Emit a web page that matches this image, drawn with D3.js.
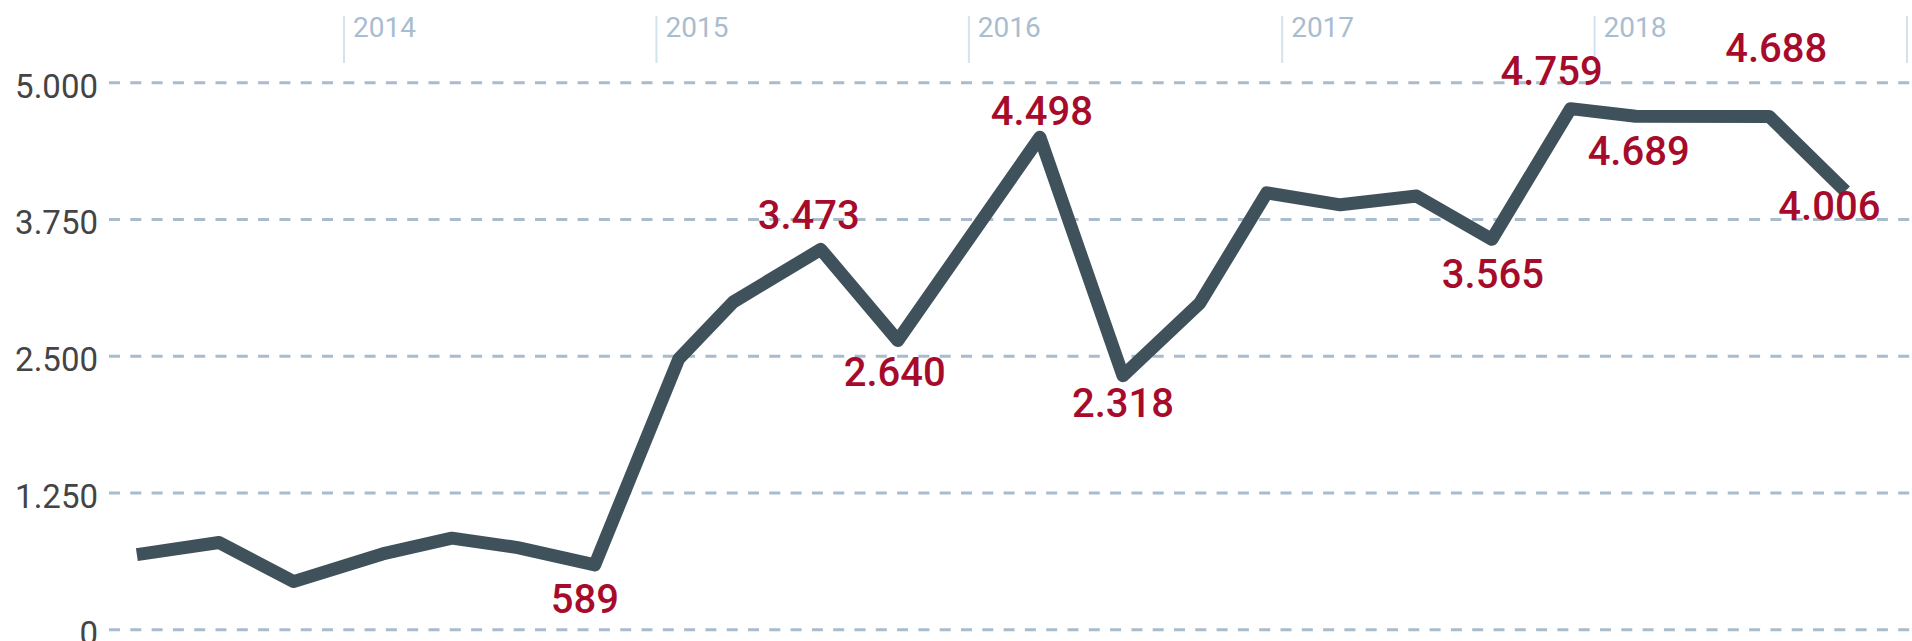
<!DOCTYPE html>
<html><head><meta charset="utf-8">
<script src="https://cdn.jsdelivr.net/npm/d3@7"></script>
<style>
html,body{margin:0;padding:0;background:#fff;}
svg{display:block;font-family:Roboto,"Noto Sans",sans-serif;}
</style></head><body>
<svg id="chart" width="1912" height="641"></svg>
<script>
// ---- data ----
const dates = ["2013-05-04","2013-08-08","2013-11-03","2014-02-15","2014-05-07","2014-07-23","2014-10-21",
  "2015-01-27","2015-04-01","2015-07-12","2015-10-10","2016-03-24","2016-06-29","2016-09-27","2016-12-14",
  "2017-03-10","2017-06-07","2017-09-03","2017-12-04","2018-02-18","2018-07-24","2018-10-21"];
const values = [683,793,436,689,833,747,589,2470,2993,3473,2640,4498,2318,2983,3990,3880,3960,3565,4759,4689,4688,4006];
const labelledIdx = [6,9,10,11,12,17,18,19,20,21];
const yTicks = [0,1250,2500,3750,5000];
const xDomain = ["2014-01-01","2019-01-01"];
// label layout (px offsets from the point), kept apart from the data
const labelOffsets = [[-10,48],[-12,-20],[-3,46],[2,-12],[0,41],[1,49],[-19,-24],[3,49],[7,-54],[-16,29]];

// ---- setup ----
const W = 1912, H = 641;
const svg = d3.select("#chart");
const parse = d3.utcParse("%Y-%m-%d");
const data = dates.map((d,i)=>({date:parse(d), value:values[i]}));
const locale = d3.formatLocale({decimal:",", thousands:".", grouping:[3], currency:["","€"]});
const fmt = locale.format(",d");

const x = d3.scaleUtc().domain(xDomain.map(parse)).range([344,1907]);
const y = d3.scaleLinear().domain([0,5000]).range([629.3,82.3]);

// y grid + labels
const gx = 109;
const yAxis = svg.append("g").attr("transform",`translate(${gx},0)`)
  .call(d3.axisLeft(y).tickValues(yTicks).tickFormat(fmt).tickSize(-(W-gx)).tickPadding(11));
yAxis.select(".domain").remove();
yAxis.selectAll(".tick line").attr("stroke","#a9bccd").attr("stroke-width",3).attr("stroke-dasharray","11 10.3");
yAxis.selectAll(".tick text").attr("fill","#444").attr("font-size",33).attr("font-family","Roboto").attr("dy","0.45em");

// top year ticks
const years = x.ticks(d3.utcYear.every(1));
const yearG = svg.append("g");
yearG.selectAll("line").data(years).join("line")
  .attr("x1",d=>x(d)).attr("x2",d=>x(d)).attr("y1",16).attr("y2",63)
  .attr("stroke","#d3e3ee").attr("stroke-width",2);
yearG.selectAll("text").data(years.filter(d=>x(d)+9<W-60)).join("text")
  .attr("x",d=>x(d)+9).attr("y",37)
  .attr("fill","#a8bdd0").attr("font-size",28).attr("font-family","Roboto")
  .text(d=>d3.utcFormat("%Y")(d));

// line
svg.append("path").datum(data)
  .attr("fill","none").attr("stroke","#3f525c").attr("stroke-width",13)
  .attr("stroke-linejoin","round").attr("stroke-linecap","butt")
  .attr("d",d3.line().x(d=>x(d.date)).y(d=>y(d.value)));

// value labels
svg.append("g").selectAll("text").data(labelledIdx).join("text")
  .attr("x",(k,i)=>x(data[k].date)+labelOffsets[i][0])
  .attr("y",(k,i)=>y(data[k].value)+labelOffsets[i][1])
  .attr("text-anchor","middle").attr("fill","#a70b2b")
  .attr("font-size",40).attr("font-weight",500).attr("font-family","Roboto")
  .text(k=>fmt(data[k].value));
</script>
</body></html>
